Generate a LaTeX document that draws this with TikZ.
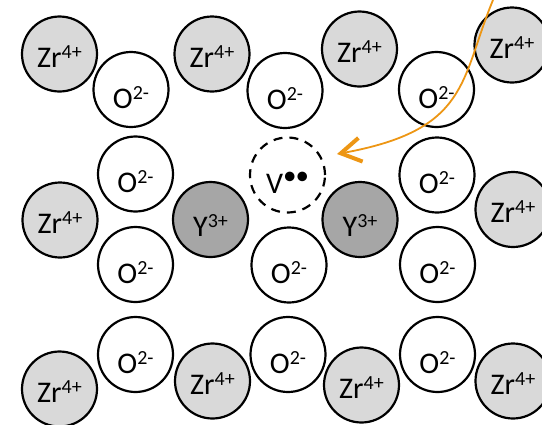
\documentclass[tikz,border=0pt]{standalone}
\usepackage{fontspec}
\setmainfont{Carlito}
\usetikzlibrary{arrows.meta}
\definecolor{zrfill}{RGB}{217,217,217}
\definecolor{yfill}{RGB}{166,166,166}
\definecolor{arrorange}{RGB}{237,150,20}
\newcommand{\ion}[2]{#1\raisebox{9pt}{\fontsize{20}{20}\selectfont #2}}
\newcommand{\vacdots}{\raisebox{9pt}{\fontsize{27}{27}\selectfont\textbullet\kern-1pt\textbullet}}

\begin{document}
\begin{tikzpicture}[x=1pt, y=-1pt,
    atom/.style={circle, draw, line width=2.2pt, minimum size=75pt, inner sep=0pt,
        font=\fontsize{30}{30}\selectfont, text depth=0pt},
    zr/.style={atom, fill=zrfill, text height=26pt},
    ox/.style={atom, fill=white, text height=37pt},
    yt/.style={atom, fill=yfill, text height=33pt},
    vac/.style={atom, dash pattern=on 9pt off 7pt, text height=36pt}]
    \useasboundingbox (0,0) rectangle (542,424);
    \clip (0,0) rectangle (542,424);

    \foreach \n/\x/\y in {za/59.5/54, zb/212/54, zc/359.5/49, zd/512/45, ze/60/220,
        zf/513/209.5, zg/59.5/389, zh/212.5/381, zi/361.5/385, zj/513/381}
        \node[zr] (\n) at (\x,\y) {\ion{Zr}{4+}};

    \foreach \n/\x/\y in {oa/131/89.5, ob/285/90.5, oc/436.5/89.5, od/135.5/174,
        oe/437/175, of/135.5/264.5, og/289/265, oh/437.5/264.5,
        oi/135.5/354.5, oj/288/354.5, ok/437.5/354.5}
        \node[ox] (\n) at (\x,\y) {\ion{O}{2-}};

    \node[yt] (ya) at (210.5,219.5) {\ion{Y}{3+}};
    \node[yt] (yb) at (360,219.5) {\ion{Y}{3+}};
    \node[vac] (vac) at (287.5,175) {V\vacdots};

    \coordinate (arrstart) at (493,0);
    \coordinate (vtip) at (337,154);
    \draw[arrorange, line width=1.8pt,
        -{Straight Barb[length=20pt, width=24pt, line width=4pt]}]
        (arrstart) .. controls (460,80) and (470,130) .. (vtip);
\end{tikzpicture}
\end{document}
